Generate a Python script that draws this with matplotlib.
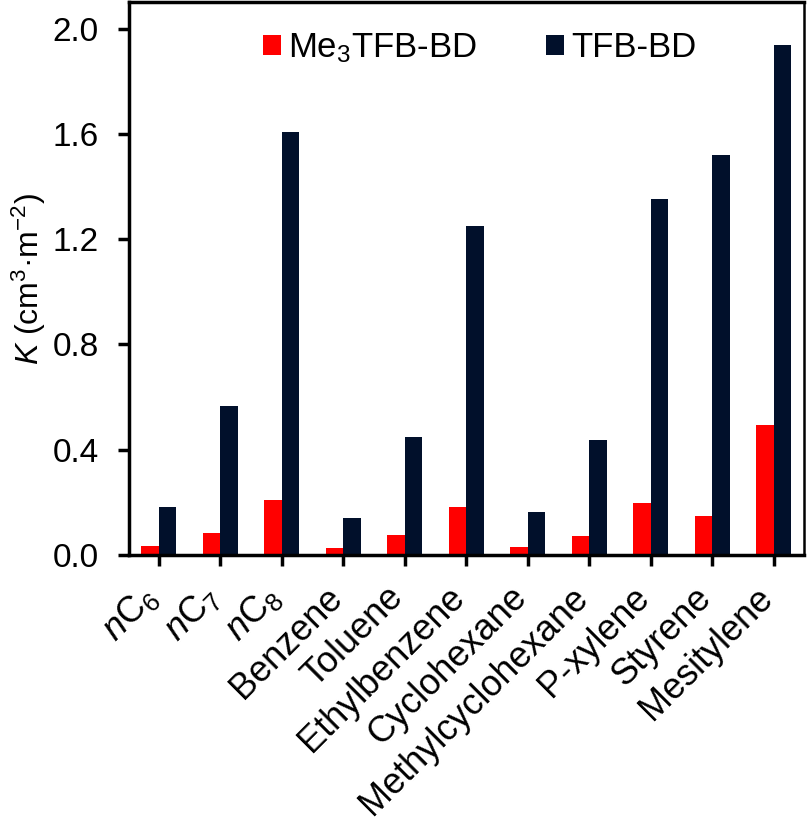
import numpy as np
import matplotlib
matplotlib.use("Agg")
import matplotlib.pyplot as plt

plt.rcParams['font.family'] = ['Liberation Sans', 'DejaVu Sans']
plt.rcParams['mathtext.fontset'] = 'custom'
plt.rcParams['mathtext.rm'] = 'Liberation Sans'
plt.rcParams['mathtext.it'] = 'Liberation Sans:italic'

# data
categories = [r'$\mathit{n}$C$_6$', r'$\mathit{n}$C$_7$', r'$\mathit{n}$C$_8$',
              'Benzene', 'Toluene', 'Ethylbenzene', 'Cyclohexane',
              'Methylcyclohexane', 'P-xylene', 'Styrene', 'Mesitylene']
me3tfb = [0.034, 0.082, 0.209, 0.024, 0.075, 0.183, 0.030, 0.070, 0.196, 0.148, 0.493]
tfb = [0.183, 0.565, 1.609, 0.139, 0.449, 1.249, 0.162, 0.436, 1.351, 1.521, 1.939]
series_names = [r'Me$_3$TFB-BD', 'TFB-BD']
yticks = [0.0, 0.4, 0.8, 1.2, 1.6, 2.0]

fig = plt.figure(figsize=(8.08, 8.17), dpi=100)
ax = fig.add_axes([0.160, 0.321, 0.835, 0.676])

x = np.arange(len(categories))
w = 0.285
ax.bar(x - w / 2, me3tfb, w, color='#ff0000', label=series_names[0])
ax.bar(x + w / 2, tfb, w, color='#01102b', label=series_names[1])

ax.set_xlim(-0.48, 10.49)
ax.set_ylim(0, 2.1)
ax.set_yticks(yticks)
ax.set_yticklabels([f'{v:.1f}' for v in yticks], fontsize=24)
ax.set_xticks(x)
ax.set_xticklabels(categories, fontsize=26, rotation=45, ha='right',
                   va='baseline', rotation_mode='anchor')
ax.tick_params(direction='out', length=8, width=2.5, color='black')
ax.tick_params(axis='y', pad=14)
ax.tick_params(axis='x', pad=24)
for s in ax.spines.values():
    s.set_linewidth(2.5)
ax.spines['right'].set_linewidth(1.8)

ax.set_ylabel(r'$\mathit{K}$ (cm$^3$·m$^{-2}$)', fontsize=23, labelpad=3)

ax.legend(loc='center left', bbox_to_anchor=(263 / 808, 1 - 48 / 817),
          bbox_transform=fig.transFigure, ncol=2, frameon=False,
          fontsize=25, handlelength=0.52, handleheight=0.52, handletextpad=0.2,
          columnspacing=2.0, borderpad=0, borderaxespad=0)

fig.savefig('out.png', dpi=100)
